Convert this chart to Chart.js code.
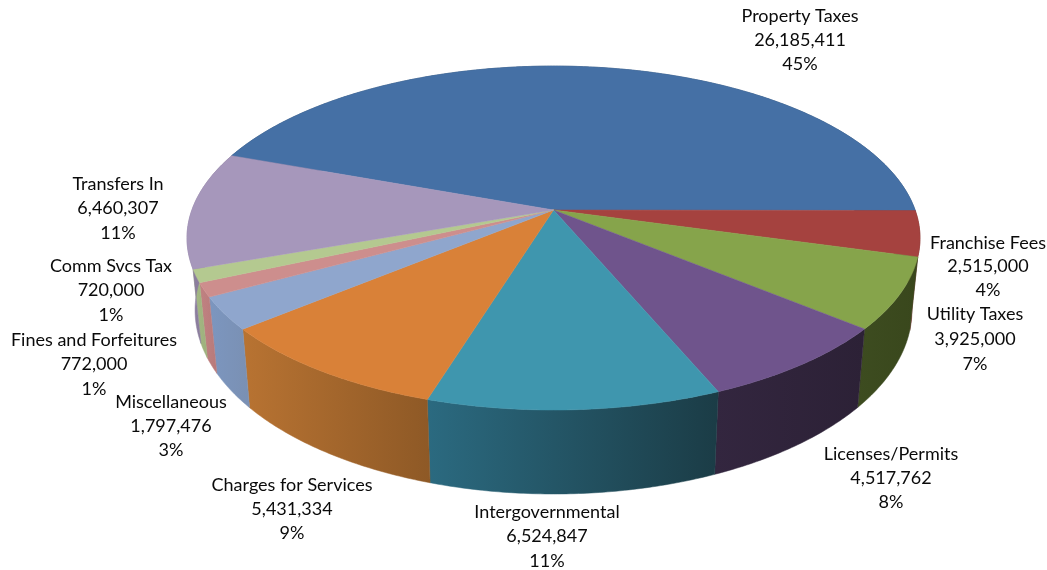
<!DOCTYPE html>
<html>
<head>
<meta charset="utf-8">
<style>
  html, body { margin: 0; padding: 0; background: #fff; }
  canvas { display: block; }
</style>
<script src="https://cdn.jsdelivr.net/npm/chart.js@4/dist/chart.umd.js"></script>
</head>
<body>
<canvas id="myChart" width="1047" height="570"></canvas>
<script>
// data
const categories = ['Property Taxes', 'Franchise Fees', 'Utility Taxes', 'Licenses/Permits', 'Intergovernmental',
    'Charges for Services', 'Miscellaneous', 'Fines and Forfeitures', 'Comm Svcs Tax', 'Transfers In'];
const amounts = [26185411, 2515000, 3925000, 4517762, 6524847, 5431334, 1797476, 772000, 720000, 6460307];
const percents = ['45%', '4%', '7%', '8%', '11%', '9%', '3%', '1%', '1%', '11%'];

// colours: top face, then side wall left and right ends
const topColors = ['#4570a5', '#a5423f', '#86a44b', '#6f548c', '#3f96ae', '#d98138', '#8fa6cd', '#cd8e8d', '#b4c990', '#a697bb'];
const wallLeft = ['#2f4c70', '#70302e', '#3d4c20', '#33263f', '#2b6a80', '#b87332', '#7c96bf', '#c08282', '#a5ba85', '#8d7fa1'];
const wallRight = ['#2f4c70', '#70302e', '#39471c', '#2c2136', '#1b3c46', '#8e5926', '#7a90b3', '#b87a7a', '#9db07c', '#85788f'];

// label centres, first line y
const labelX = [800, 988, 975, 891, 547, 292, 171, 94, 111, 118];
const labelY = [16, 243, 314, 454, 512, 485, 402, 340, 266, 184];
const lineGaps = [24, 23.5, 25, 24, 24.5, 24, 24, 24.5, 24.5, 24.5];

// tilt of the disc
const spreadX = 361.6, spreadY = 167.4, lean = 0.163, rimDepth = 70.3, rimShrink = 0.978;

// maps a point of the library's arc onto the tilted disc
function project(arc, angle, bottom) {
    const u = Math.cos(angle), v = Math.sin(angle);
    const w = 1 - lean * v;
    let x = spreadX * u / w;
    let y = spreadY * v / w;
    if (bottom) {
        x *= rimShrink;
        y += rimDepth / w;
    }
    return [arc.x + x, arc.y + y];
}

function rimPoints(arc, bottom) {
    const pts = [];
    const steps = Math.max(2, Math.ceil((arc.endAngle - arc.startAngle) / 0.01));
    for (let i = 0; i <= steps; i++) {
        pts.push(project(arc, arc.startAngle + (arc.endAngle - arc.startAngle) * i / steps, bottom));
    }
    return pts;
}

function tracePath(ctx, pts) {
    ctx.beginPath();
    pts.forEach((p, i) => i ? ctx.lineTo(p[0], p[1]) : ctx.moveTo(p[0], p[1]));
    ctx.closePath();
}

const pie3d = {
    id: 'pie3d',
    beforeDatasetDraw(chart, args) {
        const ctx = chart.ctx;
        const arcs = args.meta.data;
        ctx.save();
        // side walls first, the top faces then cover whatever is behind
        arcs.forEach((arc, i) => {
            const top = rimPoints(arc, false);
            const pts = top.concat(rimPoints(arc, true).reverse());
            const xs = pts.map(p => p[0]);
            const g = ctx.createLinearGradient(Math.min(...xs), 0, Math.max(...xs), 0);
            g.addColorStop(0, wallLeft[i]);
            g.addColorStop(1, wallRight[i]);
            tracePath(ctx, pts);
            ctx.fillStyle = g;
            ctx.strokeStyle = g;
            ctx.lineWidth = 0.5;
            ctx.fill();
            ctx.stroke();
        });
        arcs.forEach((arc, i) => {
            tracePath(ctx, [[arc.x, arc.y]].concat(rimPoints(arc, false)));
            ctx.fillStyle = topColors[i];
            ctx.strokeStyle = topColors[i];
            ctx.lineWidth = 0.5;
            ctx.fill();
            ctx.stroke();
        });
        ctx.restore();
        return false;
    },
    afterDraw(chart) {
        const ctx = chart.ctx;
        ctx.save();
        ctx.font = '18px Lato';
        ctx.fillStyle = '#0a0a0a';
        ctx.textAlign = 'center';
        ctx.textBaseline = 'middle';
        categories.forEach((name, i) => {
            const lines = [name, amounts[i].toLocaleString('en-US'), percents[i]];
            lines.forEach((line, k) => {
                ctx.fillText(line, labelX[i], labelY[i] + k * lineGaps[i]);
            });
        });
        ctx.restore();
    }
};

// config
const config = {
    type: 'pie',
    data: {
        labels: categories,
        datasets: [{
            data: amounts,
            backgroundColor: topColors,
            borderWidth: 0
        }]
    },
    options: {
        responsive: false,
        animation: false,
        rotation: 290,
        layout: { padding: { left: 60, bottom: 150 } },
        plugins: {
            legend: { display: false },
            tooltip: { enabled: false }
        }
    },
    plugins: [pie3d]
};

const myChart = new Chart(document.getElementById('myChart'), config);
</script>
</body>
</html>
